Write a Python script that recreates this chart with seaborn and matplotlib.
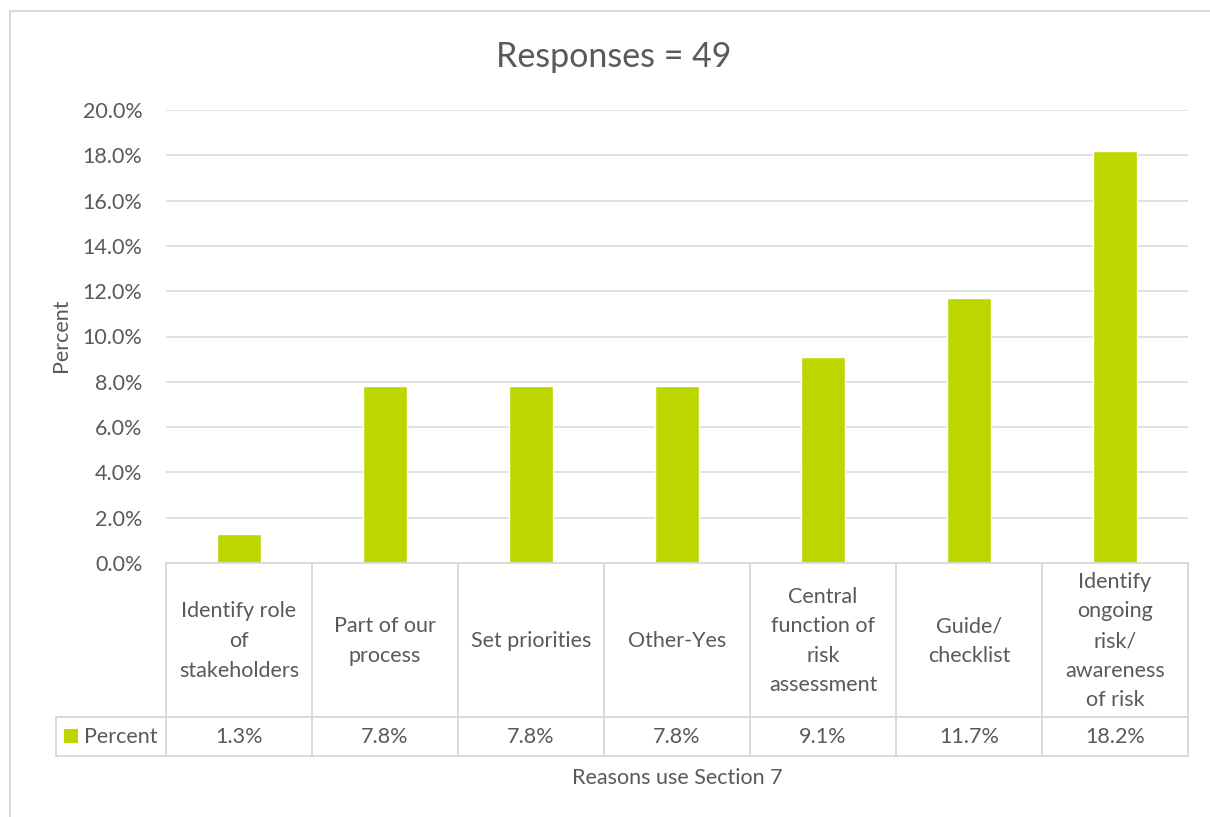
import matplotlib
matplotlib.use("Agg")
import matplotlib.pyplot as plt
from matplotlib.patches import Rectangle
import seaborn as sns
import pandas as pd

# Data
categories = [
    "Identify role\nof\nstakeholders",
    "Part of our\nprocess",
    "Set priorities",
    "Other-Yes",
    "Central\nfunction of\nrisk\nassessment",
    "Guide/\nchecklist",
    "Identify\nongoing\nrisk/\nawareness\nof risk",
]
percent = [1.3, 7.8, 7.8, 7.8, 9.1, 11.7, 18.2]
y_ticks = [0, 2, 4, 6, 8, 10, 12, 14, 16, 18, 20]
series_name = "Percent"
title_text = "Responses = 49"
x_title = "Reasons use Section 7"
y_title = "Percent"

BAR = "#BED600"
TXT = "#595959"
GRID = "#D9D9D9"
FS = 15.5

sns.set_theme(style="white")
plt.rcParams["font.family"] = ["Lato", "DejaVu Sans"]

df = pd.DataFrame({"cat": [str(i) for i in range(len(categories))], "val": percent})

W, H = 1210, 817
fig = plt.figure(figsize=(W / 100, H / 100), dpi=100)
fig.patch.set_facecolor("white")

# plot area in pixel terms
left_px, right_px, top_px, bot_px = 166, 1188, 110, 563
ax = fig.add_axes([left_px / W, 1 - bot_px / H, (right_px - left_px) / W, (bot_px - top_px) / H])

sns.barplot(data=df, x="cat", y="val", color=BAR, width=0.30, ax=ax, saturation=1)

ax.set_ylim(0, 20)
ax.set_xlim(-0.5, len(categories) - 0.5)
ax.set_yticks(y_ticks)
ax.set_yticklabels([f"{v:.1f}%" for v in y_ticks], color=TXT, fontsize=FS)
ax.tick_params(axis="y", length=0, pad=17)
ax.set_xticks([])
ax.set_xlabel("")
ax.set_ylabel("")
for s in ax.spines.values():
    s.set_visible(False)
ax.set_axisbelow(True)
ax.yaxis.grid(True, color=GRID, linewidth=1.1)
ax.xaxis.grid(False)

# data table under the plot area
plot_h = bot_px - top_px
plot_w = right_px - left_px
def fy(py):
    return (bot_px - py) / plot_h
def fx(px):
    return (px - left_px) / plot_w

row_mid = fy(717)
row_bot = fy(756)
tab_left = fx(56)
line_kw = dict(color=GRID, linewidth=1.4, transform=ax.transAxes, clip_on=False)

# horizontal lines
ax.plot([0, 1], [0, 0], **line_kw)
ax.plot([tab_left, 1], [row_mid, row_mid], **line_kw)
ax.plot([tab_left, 1], [row_bot, row_bot], **line_kw)
# vertical lines
n = len(categories)
for i in range(n + 1):
    x = i / n
    ax.plot([x, x], [0, row_bot], **line_kw)
ax.plot([tab_left, tab_left], [row_mid, row_bot], **line_kw)

for i, (c, v) in enumerate(zip(categories, percent)):
    xc = (i + 0.5) / n
    ax.text(xc, fy(641), c, transform=ax.transAxes, ha="center", va="center",
            fontsize=FS, color=TXT, linespacing=1.6, clip_on=False)
    ax.text(xc, fy(737), f"{v:.1f}%", transform=ax.transAxes, ha="center", va="center",
            fontsize=FS, color=TXT, clip_on=False)

# legend key inside the table
ax.add_patch(Rectangle((fx(64), fy(743)), fx(78) - fx(64), fy(729) - fy(743),
                       transform=ax.transAxes, facecolor=BAR, edgecolor="none", clip_on=False))
ax.text(fx(84), fy(737), series_name, transform=ax.transAxes, ha="left", va="center",
        fontsize=FS, color=TXT, clip_on=False)

# titles
fig.text(614 / W, 1 - 57 / H, title_text, ha="center", va="center", fontsize=24.5, color=TXT)
fig.text(677 / W, 1 - 778 / H, x_title, ha="center", va="center", fontsize=FS, color=TXT)
fig.text(61 / W, 1 - 335 / H, y_title, ha="center", va="center", fontsize=FS,
         color=TXT, rotation=90)

# chart frame (left and top edges visible)
fig.add_artist(plt.Line2D([10 / W, 10 / W], [0, 1 - 11 / H], color=GRID, linewidth=1.4,
                          transform=fig.transFigure))
fig.add_artist(plt.Line2D([10 / W, 1], [1 - 11 / H, 1 - 11 / H], color=GRID, linewidth=1.4,
                          transform=fig.transFigure))

fig.savefig("out.png", dpi=100, facecolor="white")
